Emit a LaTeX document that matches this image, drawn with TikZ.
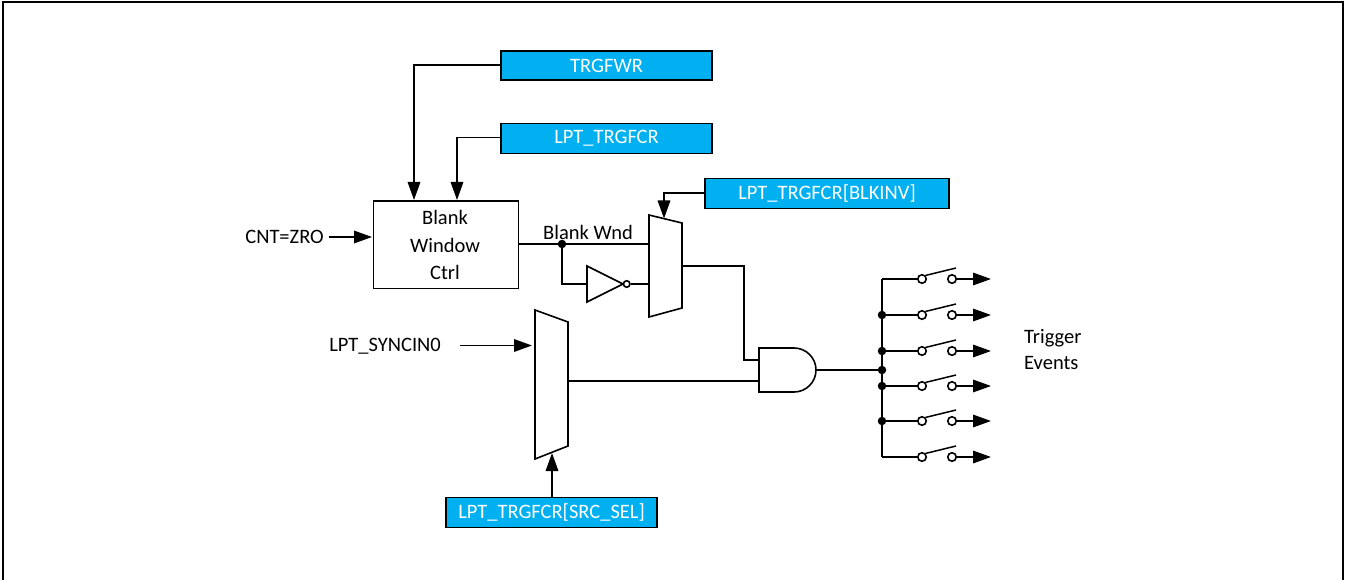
\documentclass[tikz,border=0pt]{standalone}
\usepackage{fontspec}
\setmainfont{Carlito}
\usetikzlibrary{arrows.meta}
\definecolor{regblue}{RGB}{0,176,240}
\tikzset{
  x=1pt,y=-1pt,
  wire/.style={line width=1.7pt,line join=miter},
  arr/.style={wire,-{Triangle[length=18pt,width=12.5pt]}},
  reg/.style={draw=black,fill=regblue,line width=1.7pt,text=white,inner sep=0pt,anchor=north west,font=\fontsize{20.5}{24}\selectfont},
  lbl/.style={inner sep=0pt,font=\fontsize{20.5}{24}\selectfont},
  part/.style={draw=black,line width=1.6pt,fill=white},
  junc/.style={circle,fill=black,draw=none,minimum size=8.5pt,inner sep=0pt},
  term/.style={circle,draw=black,fill=white,line width=1.6pt,minimum size=8.5pt,inner sep=0pt},
}
\begin{document}
\begin{tikzpicture}
\useasboundingbox (0,0) rectangle (1351,580);
\draw[line width=2pt] (2.5,580) -- (2.5,2) -- (1343,2) -- (1343,580);
% registers
\node[reg,minimum width=211pt,minimum height=29pt] (trgfwr) at (500.2,50.5) {TRGFWR};
\node[reg,minimum width=211pt,minimum height=30pt] (trgfcr) at (500.2,122.7) {LPT\_TRGFCR};
\node[reg,minimum width=244pt,minimum height=30pt] (blkinv) at (704.2,177.7) {LPT\_TRGFCR[BLKINV]};
\node[reg,minimum width=211pt,minimum height=30pt] (srcsel) at (445.2,496.7) {LPT\_TRGFCR[SRC\_SEL]};
% control block
\node[draw,line width=1.6pt,minimum width=145pt,minimum height=87pt,inner sep=0pt,anchor=north west] (ctrl) at (372.8,200.5) {};
\node[lbl] (t1) at (445,217) {Blank};
\node[lbl] (t2) at (445,245) {Window};
\node[lbl] (t3) at (445,272) {Ctrl};
\node[lbl,anchor=east] (cnt) at (324,237) {CNT=ZRO};
\node[lbl,anchor=east] (sync) at (441,346.5) {LPT\_SYNCIN0};
\node[lbl] (bw) at (588,232) {Blank Wnd};
\coordinate (c1) at (414,200);
\coordinate (c2) at (457,200);
\coordinate (cin) at (372,237);
\draw[arr] (trgfwr.west |- 0,65) -| (c1);
\draw[arr] (trgfcr.west |- 0,137.5) -| (c2);
\draw[arr] (cnt.east)+(5,0) -- (cin);
% mux 1
\coordinate (m1a) at (649,215);\coordinate (m1b) at (682,223);\coordinate (m1c) at (682,308);\coordinate (m1d) at (649,317);
\draw[part] (m1a) -- (m1b) -- (m1c) -- (m1d) -- cycle;
\coordinate (m1top) at (664,218.5);
\draw[arr] (blkinv.west |- 0,193) -| (m1top);
\coordinate (m1i1) at (649,244);\coordinate (m1i2) at (649,284);\coordinate (m1o) at (682,266);
% inverter
\coordinate (ia) at (587,266);\coordinate (ib) at (623,284);\coordinate (ic) at (587,302);
\draw[part] (ia) -- (ib) -- (ic) -- cycle;
\node[term,minimum size=6.5pt] (bub) at (626.7,284) {};
\coordinate (iin) at (587,284);
\node[junc] (j0) at (562,244) {};
\draw[wire] (ctrl.east |- m1i1) -- (m1i1);
\draw[wire] (j0) |- (iin);
\draw[wire] (bub) -- (m1i2);
% mux 2
\coordinate (m2a) at (535,310);\coordinate (m2b) at (568,322);\coordinate (m2c) at (568,446);\coordinate (m2d) at (535,459);
\draw[part] (m2a) -- (m2b) -- (m2c) -- (m2d) -- cycle;
\coordinate (m2i) at (532,345.5);\coordinate (m2s) at (552,453);
\draw[arr] (460,345.5) -- (m2i);
\draw[arr] (srcsel.north -| m2s) -- (m2s);
% AND
\draw[part] (759,348) -- (794,348) arc[start angle=-90,end angle=90,x radius=22,y radius=22] -- (759,392) -- cycle;
\coordinate (ai1) at (759,360);\coordinate (ai2) at (759,381);\coordinate (ao) at (816,370);
\draw[wire] (m1o) -| (744,360) -- (ai1);
\draw[wire] (568,381) -- (ai2);
% bus and switches
\coordinate (bt) at (882,279);\coordinate (bb) at (882,457);
\draw[wire] (ao) -- (882,370);
\draw[wire] (bt) -- (bb);
\foreach \n/\y in {a/279,b/315,c/351,d/386,e/421,f/457}{
  \node[term] (l\n) at (922,\y) {};
  \node[term] (r\n) at (952,\y) {};
  \coordinate (o\n) at (991,\y);
  \draw[wire] (882,\y) -- (l\n);
  \draw[arr] (r\n) -- (o\n);
  \draw[line width=1.5pt] (l\n.north east) -- (956,\y-11);
}
\foreach \y in {315,351,370,386,421}{\node[junc] at (882,\y) {};}
% right label
\node[lbl,anchor=west] (tr) at (1024,338.5) {Trigger};
\node[lbl,anchor=west] (ev) at (1024,363) {Events};
\end{tikzpicture}
\end{document}
